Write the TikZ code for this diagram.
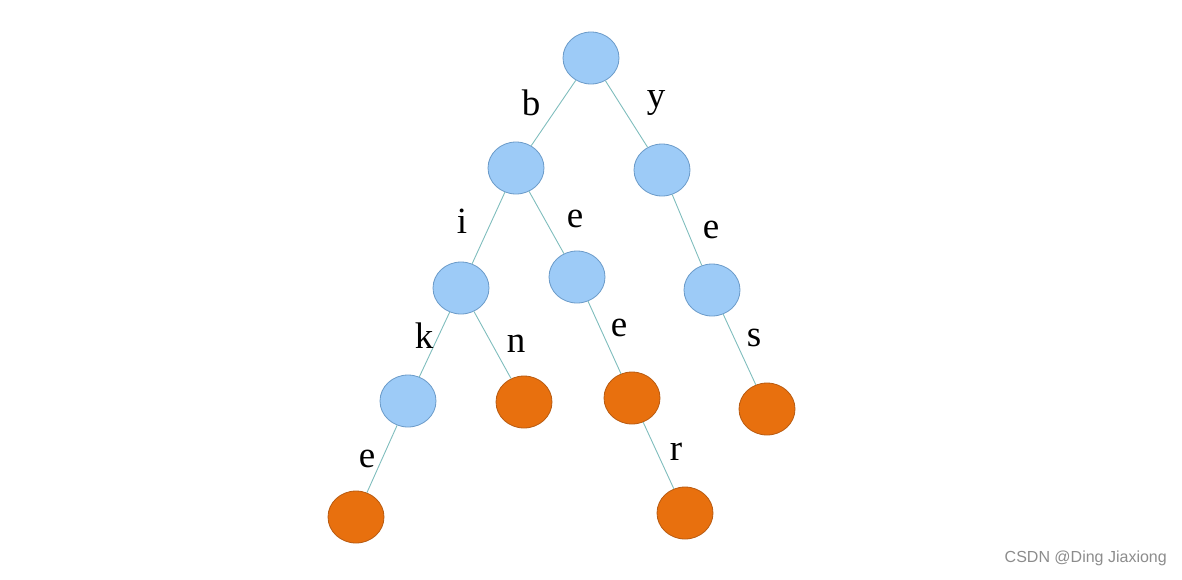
\documentclass[tikz,border=0pt]{standalone}
\usepackage{fontspec}
\setmainfont{Liberation Serif}
\newfontfamily\wmfont{Liberation Sans}
\usetikzlibrary{shapes.geometric}
\definecolor{bluefill}{HTML}{9DCBF7}
\definecolor{blueedge}{HTML}{6A9AC8}
\definecolor{orfill}{HTML}{E8700E}
\definecolor{oredge}{HTML}{B85A10}
\definecolor{edgecol}{HTML}{7FBDBD}
\tikzset{
  inner/.style={ellipse, draw=blueedge, fill=bluefill, line width=0.8pt, minimum width=56pt, minimum height=52pt, inner sep=0pt},
  leaf/.style={ellipse, draw=oredge, fill=orfill, line width=0.8pt, minimum width=56pt, minimum height=52pt, inner sep=0pt},
  lbl/.style={font=\fontsize{37}{39}\selectfont, inner sep=0pt},
  conn/.style={draw=edgecol, line width=0.9pt}
}
\begin{document}
\begin{tikzpicture}[x=1pt,y=-1pt]
\useasboundingbox (0,0) rectangle (1182,579);
\node[inner] (root) at (591,58) {};
\node[inner] (b) at (516,168) {};
\node[inner] (y) at (662,170) {};
\node[inner] (bi) at (461,288) {};
\node[inner] (be) at (577,277) {};
\node[inner] (ye) at (712,290) {};
\node[inner] (bik) at (408,401) {};
\node[leaf] (bin) at (524,402) {};
\node[leaf] (bee) at (632,398) {};
\node[leaf] (yes) at (767,409) {};
\node[leaf] (bike) at (356,517) {};
\node[leaf] (beer) at (685,513) {};
\draw[conn] (root) -- (b);
\draw[conn] (root) -- (y);
\draw[conn] (b) -- (bi);
\draw[conn] (b) -- (be);
\draw[conn] (y) -- (ye);
\draw[conn] (bi) -- (bik);
\draw[conn] (bi) -- (bin);
\draw[conn] (be) -- (bee);
\draw[conn] (ye) -- (yes);
\draw[conn] (bik) -- (bike);
\draw[conn] (bee) -- (beer);
\node[lbl] (lb) at (531,103) {b};
\node[lbl] (ly) at (656,103) {y};
\node[lbl] (li) at (462,221) {i};
\node[lbl] (le1) at (575,219) {e};
\node[lbl] (le2) at (711,230) {e};
\node[lbl] (lk) at (424,336) {k};
\node[lbl] (ln) at (516,344) {n};
\node[lbl] (le3) at (619,328) {e};
\node[lbl] (ls) at (754,338) {s};
\node[lbl] (le4) at (367,459) {e};
\node[lbl] (lr) at (676,452) {r};
\node[font=\wmfont\fontsize{16}{18}\selectfont, text=black!45, anchor=east, inner sep=0pt] (wm) at (1167,558) {CSDN @Ding Jiaxiong};
\end{tikzpicture}
\end{document}
